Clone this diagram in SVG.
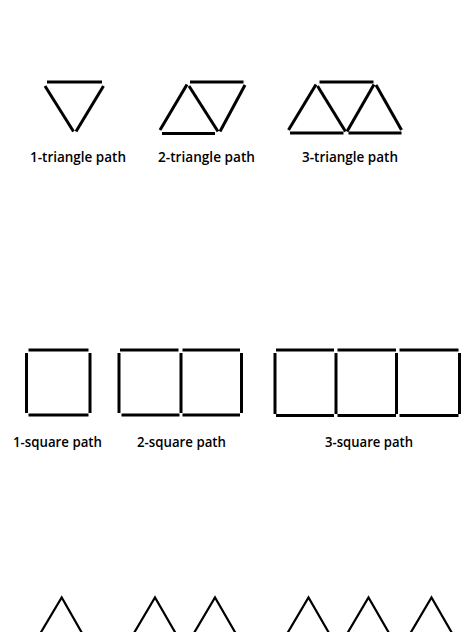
<svg xmlns="http://www.w3.org/2000/svg" width="474" height="632" viewBox="0 0 474 632">
<style>
.s{stroke:#000;stroke-width:3;fill:none;stroke-linecap:butt}
.t{stroke:#000;stroke-width:2.2;fill:none}
.l{font-family:"Open Sans","Liberation Sans",sans-serif;font-weight:600;font-size:13.5px;fill:#000;text-anchor:middle}
</style>
<rect width="474" height="632" fill="#fff"/>
<g id="connectors"/>
<g id="tri1">
<line class="s" x1="47" y1="82" x2="102" y2="82"/>
<line class="s" x1="45" y1="86" x2="73.5" y2="131.5"/>
<line class="s" x1="103.5" y1="86" x2="76" y2="131.5"/>
<text class="l" x="78" y="161.5" textLength="96" lengthAdjust="spacingAndGlyphs">1-triangle path</text>
</g>
<g id="tri2">
<line class="s" x1="160" y1="130" x2="187" y2="84.5"/>
<line class="s" x1="190" y1="82" x2="243.5" y2="82"/>
<line class="s" x1="189" y1="86" x2="218" y2="131.5"/>
<line class="s" x1="245" y1="85" x2="220" y2="131.5"/>
<line class="s" x1="162" y1="133.5" x2="215" y2="133.5"/>
<text class="l" x="206.5" y="161.5" textLength="97" lengthAdjust="spacingAndGlyphs">2-triangle path</text>
</g>
<g id="tri3">
<line class="s" x1="288.5" y1="130" x2="316" y2="84.5"/>
<line class="s" x1="319.5" y1="82" x2="373.5" y2="82"/>
<line class="s" x1="317.5" y1="86" x2="345.5" y2="131.5"/>
<line class="s" x1="347" y1="131.5" x2="374" y2="84.5"/>
<line class="s" x1="376" y1="85" x2="401.5" y2="130"/>
<line class="s" x1="290" y1="133" x2="343.5" y2="133"/>
<line class="s" x1="348.5" y1="133" x2="401.5" y2="133"/>
<text class="l" x="350" y="161.5" textLength="96" lengthAdjust="spacingAndGlyphs">3-triangle path</text>
</g>
<g id="sq1">
<line class="s" x1="28.5" y1="350" x2="88.5" y2="350"/>
<line class="s" x1="26.5" y1="353" x2="26.5" y2="413"/>
<line class="s" x1="90" y1="353" x2="90" y2="413"/>
<line class="s" x1="28.5" y1="415" x2="88.5" y2="415"/>
<text class="l" x="57.5" y="446.5" textLength="89" lengthAdjust="spacingAndGlyphs">1-square path</text>
</g>
<g id="sq2">
<line class="s" x1="120" y1="350" x2="178.5" y2="350"/>
<line class="s" x1="182.5" y1="350" x2="240" y2="350"/>
<line class="s" x1="119" y1="353" x2="119" y2="413"/>
<line class="s" x1="181" y1="353" x2="181" y2="413"/>
<line class="s" x1="241.5" y1="353" x2="241.5" y2="413"/>
<line class="s" x1="121.5" y1="415" x2="179.5" y2="415"/>
<line class="s" x1="182.5" y1="415" x2="240" y2="415"/>
<text class="l" x="181.5" y="446.5" textLength="89" lengthAdjust="spacingAndGlyphs">2-square path</text>
</g>
<g id="sq3">
<line class="s" x1="276" y1="350" x2="334" y2="350"/>
<line class="s" x1="337.5" y1="350" x2="396" y2="350"/>
<line class="s" x1="399.5" y1="350" x2="458.5" y2="350"/>
<line class="s" x1="275" y1="353" x2="275" y2="414"/>
<line class="s" x1="336" y1="353" x2="336" y2="414"/>
<line class="s" x1="396.5" y1="353" x2="396.5" y2="414"/>
<line class="s" x1="459.5" y1="353" x2="459.5" y2="414"/>
<line class="s" x1="276" y1="415.5" x2="334" y2="415.5"/>
<line class="s" x1="337.5" y1="415.5" x2="396" y2="415.5"/>
<line class="s" x1="399.5" y1="415.5" x2="458.5" y2="415.5"/>
<text class="l" x="369" y="446.5" textLength="88" lengthAdjust="spacingAndGlyphs">3-square path</text>
</g>
<g id="bot1">
<polyline class="t" points="40.5,633 61.7,597.5 82,633"/>
</g>
<g id="bot2">
<polyline class="t" points="134,633 155,597.5 175.5,633"/>
<polyline class="t" points="194,633 215,597.5 235.5,633"/>
</g>
<g id="bot3">
<polyline class="t" points="287.5,633 308.5,597.5 329,633"/>
<polyline class="t" points="347.5,633 368.5,597.5 389,633"/>
<polyline class="t" points="410.5,633 431.5,597.5 452,633"/>
</g>
</svg>
